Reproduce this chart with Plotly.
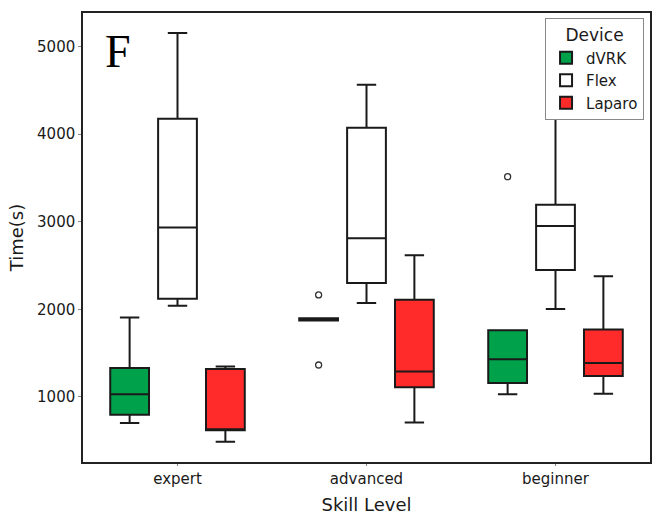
import plotly.graph_objects as go

skill_levels = ["expert", "advanced", "beginner"]
devices = ["dVRK", "Flex", "Laparo"]
colors = {"dVRK": "#00A14B", "Flex": "#FFFFFF", "Laparo": "#FF2B2B"}

# box statistics per device, ordered as skill_levels
dvrk_lower = [703, 1872, 1030]
dvrk_q1 = [798, 1872, 1159]
dvrk_median = [1030, 1885, 1429]
dvrk_q3 = [1331, 1898, 1760]
dvrk_upper = [1908, 1898, 1760]
dvrk_outliers = [[], [2164, 1365], [3513]]

flex_lower = [2040, 2072, 2004]
flex_q1 = [2121, 2300, 2449]
flex_median = [2935, 2810, 2951]
flex_q3 = [4175, 4072, 3194]
flex_upper = [5153, 4563, 4240]
flex_outliers = [[], [], []]

laparo_lower = [490, 710, 1038]
laparo_q1 = [619, 1110, 1239]
laparo_median = [619, 1292, 1388]
laparo_q3 = [1319, 2110, 1771]
laparo_upper = [1349, 2616, 2376]
laparo_outliers = [[], [], []]

stats = {
    "dVRK": (dvrk_lower, dvrk_q1, dvrk_median, dvrk_q3, dvrk_upper, dvrk_outliers),
    "Flex": (flex_lower, flex_q1, flex_median, flex_q3, flex_upper, flex_outliers),
    "Laparo": (laparo_lower, laparo_q1, laparo_median, laparo_q3, laparo_upper, laparo_outliers),
}

BOXGAP = 0.24
BOXGROUPGAP = 0.19
slot = (1 - BOXGAP) / len(devices)
positions = list(range(len(skill_levels)))

font_family = "DejaVu Sans"
fig = go.Figure()
for di, dev in enumerate(devices):
    lo, q1, med, q3, up, outs = stats[dev]
    fig.add_trace(go.Box(
        name=dev,
        x=positions,
        q1=q1, median=med, q3=q3, lowerfence=lo, upperfence=up,
        boxpoints=False,
        fillcolor=colors[dev],
        line=dict(color="#1a1a1a", width=2),
        whiskerwidth=0.5,
    ))
    # outliers, placed at this device's slot within each category group
    ox, oy = [], []
    offset = (di - (len(devices) - 1) / 2) * slot
    for ci, vals in enumerate(outs):
        for v in vals:
            ox.append(positions[ci] + offset)
            oy.append(v)
    if ox:
        fig.add_trace(go.Scatter(
            x=ox, y=oy, mode="markers", showlegend=False, hoverinfo="y",
            marker=dict(symbol="circle-open", size=6, color="#333333",
                        line=dict(width=1.3, color="#333333")),
        ))

fig.update_layout(
    width=656, height=518,
    margin=dict(l=83, r=4, t=13, b=56),
    paper_bgcolor="white", plot_bgcolor="white",
    boxmode="group", boxgap=BOXGAP, boxgroupgap=BOXGROUPGAP,
    font=dict(family=font_family, size=15, color="#1a1a1a"),
    showlegend=True,
    legend=dict(
        title=dict(text="Device", side="top center", font=dict(size=17)),
        x=0.9895, y=0.988, xanchor="right", yanchor="top",
        bgcolor="white", bordercolor="#888888", borderwidth=1,
        font=dict(size=15), tracegroupgap=0, itemsizing="constant",
    ),
    xaxis=dict(
        type="linear",
        range=[-0.5, 2.5],
        tickvals=positions, ticktext=skill_levels,
        title=dict(text="Skill Level", font=dict(size=18), standoff=12),
        showline=True, linecolor="#222222", linewidth=1.5, mirror=True,
        ticks="outside", ticklen=2, tickcolor="#888888",
        showgrid=False, zeroline=False,
    ),
    yaxis=dict(
        type="linear",
        range=[258, 5381],
        tickvals=[1000, 2000, 3000, 4000, 5000],
        title=dict(text="Time(s)", font=dict(size=18), standoff=9),
        showline=True, linecolor="#222222", linewidth=1.5, mirror=True,
        ticks="outside", ticklen=3, tickcolor="#888888",
        showgrid=False, zeroline=False,
    ),
    annotations=[dict(
        text="F", xref="paper", yref="paper", x=0.062, y=0.915,
        xanchor="center", yanchor="middle", showarrow=False,
        font=dict(family="Liberation Serif", size=46, color="black"),
    )],
)

fig.write_html("out.html")
